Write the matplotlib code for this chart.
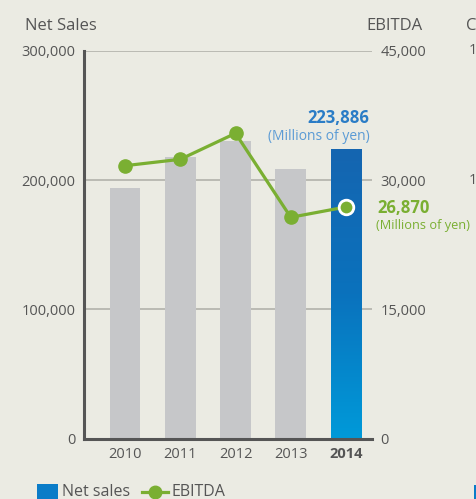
import numpy as np
import matplotlib
matplotlib.use("Agg")
import matplotlib.pyplot as plt
from matplotlib.colors import LinearSegmentedColormap
from matplotlib.patches import Rectangle
from matplotlib.lines import Line2D

# data
years = ["2010", "2011", "2012", "2013", "2014"]
net_sales = [194000, 218000, 230400, 208500, 223886]
ebitda = [31660, 32400, 35420, 25670, 26870]
sales_ticks = [0, 100000, 200000, 300000]
ebitda_ticks = [0, 15000, 30000, 45000]

bg = "#ebebe3"
grey_bar = "#c6c7c9"
green = "#7aaf32"
blue_dark = "#2a7cc6"
blue_light = "#5b9bd5"
txt = "#555555"

plt.rcParams["font.family"] = ["Open Sans", "DejaVu Sans"]

fig = plt.figure(figsize=(4.77, 4.99), dpi=100, facecolor=bg)
ax = fig.add_axes([84 / 477, 1 - 438.5 / 499, (372 - 84) / 477, (438.5 - 50.75) / 499])
ax.set_facecolor(bg)
ax2 = ax.twinx()

x = np.arange(len(years))
bars = ax.bar(x, net_sales, width=0.56, color=grey_bar, zorder=2)

# gradient for the latest year
last = bars[-1]
bx, by = last.get_x(), last.get_y()
bw, bh = last.get_width(), last.get_height()
last.set_facecolor("none")
cmap = LinearSegmentedColormap.from_list("b", ["#009ad9", "#0a72bd", "#1565b0"])
grad = np.linspace(0, 1, 256).reshape(-1, 1)
im = ax.imshow(grad, cmap=cmap, aspect="auto", origin="lower",
               extent=[bx, bx + bw, by, by + bh], zorder=2)
im.set_clip_path(last)

ax.set_xlim(-0.742, 4.47)
ax.set_ylim(0, 300000)
ax2.set_ylim(0, 45000)

ax.set_yticks(sales_ticks)
ax.set_yticklabels([f"{v:,}" for v in sales_ticks])
ax2.set_yticks(ebitda_ticks)
ax2.set_yticklabels([f"{v:,}" for v in ebitda_ticks])
ax.set_xticks(x)
ax.set_xticklabels(years)
for lab in ax.get_xticklabels()[-1:]:
    lab.set_fontweight("bold")
    lab.set_color("#444444")

ax.tick_params(axis="y", length=0, pad=6, labelsize=10.5, labelcolor=txt)
ax2.tick_params(axis="y", length=0, pad=6, labelsize=10.5, labelcolor=txt)
ax.tick_params(axis="x", length=0, pad=6, labelsize=10.5, labelcolor=txt)

ax.yaxis.grid(True, color="#adada6", linewidth=1.1, zorder=1)
ax.set_axisbelow(True)
for s in ["top", "right"]:
    ax.spines[s].set_visible(False)
for s in ["top", "right", "left", "bottom"]:
    ax2.spines[s].set_visible(False)
ax.spines["left"].set_color("#555555")
ax.spines["left"].set_linewidth(2.2)
ax.spines["bottom"].set_color("#555555")
ax.spines["bottom"].set_linewidth(2.2)
ax.spines["left"].set_zorder(5)
ax.spines["bottom"].set_zorder(5)

ax2.plot(x, ebitda, color=green, linewidth=2.3, marker="o", markersize=9.5,
         markerfacecolor=green, markeredgecolor=green, zorder=4)
ax2.plot(x[-1], ebitda[-1], marker="o", markersize=10.5, markerfacecolor=green,
         markeredgecolor="white", markeredgewidth=2, zorder=5)

# headings
fig.text(25 / 477, 1 - 26 / 499, "Net Sales", fontsize=12, color=txt, va="center", ha="left")
fig.text(423 / 477, 1 - 26 / 499, "EBITDA", fontsize=12, color=txt, va="center", ha="right")
fig.text(466 / 477, 1 - 26 / 499, "C", fontsize=12, color=txt, va="center", ha="left")
fig.text(469 / 477, 1 - 50 / 499, "1", fontsize=10.5, color=txt, va="center", ha="left")
fig.text(469 / 477, 1 - 180 / 499, "1", fontsize=10.5, color=txt, va="center", ha="left")

# value call-outs
fig.text(369 / 477, 1 - 118 / 499, f"{net_sales[-1]:,}", fontsize=12, fontweight="bold",
         color=blue_dark, ha="right", va="center")
fig.text(370 / 477, 1 - 137 / 499, "(Millions of yen)", fontsize=10, color=blue_light,
         ha="right", va="center")
fig.text(377 / 477, 1 - 208 / 499, f"{ebitda[-1]:,}", fontsize=12, fontweight="bold",
         color=green, ha="left", va="center")
fig.text(376 / 477, 1 - 226 / 499, "(Millions of yen)", fontsize=9.2, color=green,
         ha="left", va="center")

# legend at the bottom
fig.patches.append(Rectangle((37 / 477, 0), 21 / 477, 15 / 499, transform=fig.transFigure,
                             facecolor="#0a7cc8", edgecolor="none"))
fig.text(62 / 477, 7 / 499, "Net sales", fontsize=11.5, color=txt, ha="left", va="center")
fig.lines.append(Line2D([142 / 477, 168 / 477], [7 / 499, 7 / 499], transform=fig.transFigure,
                        color=green, linewidth=2.3))
fig.lines.append(Line2D([155 / 477], [7 / 499], transform=fig.transFigure, color=green,
                        marker="o", markersize=9))
fig.text(172 / 477, 7 / 499, "EBITDA", fontsize=11.5, color=txt, ha="left", va="center")
fig.patches.append(Rectangle((474 / 477, 0), 5 / 477, 14 / 499, transform=fig.transFigure,
                             facecolor="#0a7cc8", edgecolor="none"))

fig.savefig("out.png", dpi=100, facecolor=bg)
